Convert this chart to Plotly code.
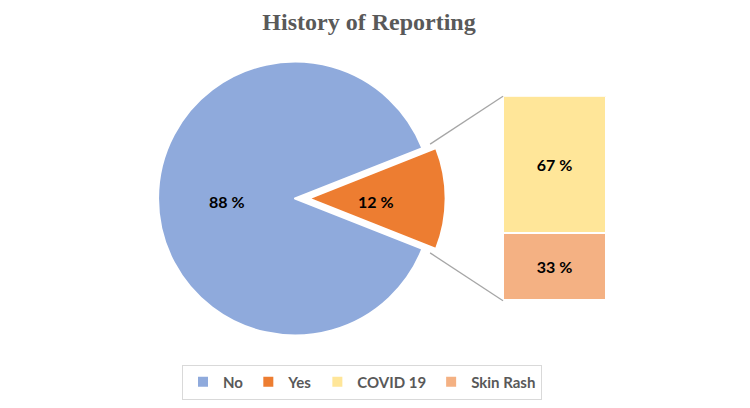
import math
import plotly.graph_objects as go

# pie: reporting history
pie_labels = ["No", "Yes"]
pie_values = [88, 12]
pie_colors = ["#8FAADC", "#ED7D31"]

# bar: breakdown of "Yes"
bar_labels = ["Skin Rash", "COVID 19"]
bar_values = [33, 67]
bar_colors = ["#F4B183", "#FFE699"]

# page body has an 8px margin, so the figure sits at (8, 8)
OFF = 8
W, H = 750 - 2 * OFF, 408 - 2 * OFF


def px(x):
    return (x - OFF) / W


def py(y):
    return 1 - (y - OFF) / H


cx, cy, r = 295, 200, 138        # pie center / radius (reference px)
pull = 0.1
half = r * (1 + pull)

total = sum(pie_values)
no_deg = pie_values[0] / total * 360
yes_deg = pie_values[1] / total * 360
# Yes slice centered on 3 o'clock
rotation = (90 - yes_deg / 2) - no_deg

fig = go.Figure()

fig.add_trace(go.Pie(
    labels=pie_labels, values=pie_values, sort=False, direction="clockwise",
    rotation=rotation, pull=[0, pull],
    marker=dict(colors=pie_colors, line=dict(color="white", width=2)),
    textinfo="none",
    domain=dict(x=[px(cx - half), px(cx + half)], y=[py(cy + half), py(cy - half)]),
    legendrank=1, hoverinfo="label+percent",
))

# slice labels at ~half radius along each slice's mid angle
annotations = []
start = rotation
for lab, val, p in zip(pie_labels, pie_values, [0, pull]):
    deg = val / total * 360
    mid = math.radians(start + deg / 2)   # clockwise from 12 o'clock
    start += deg
    d = 0.49 * r + p * r
    annotations.append(dict(
        x=px(cx + d * math.sin(mid)), y=py(cy + 3 - d * math.cos(mid)),
        xref="paper", yref="paper", xanchor="center", yanchor="middle",
        showarrow=False, text=f"{val} %",
        font=dict(family="Lato", size=16, color="black", weight="bold")))

for lab, val, col, rank in zip(bar_labels, bar_values, bar_colors, [3, 2]):
    fig.add_trace(go.Bar(
        x=[0], y=[val], name=lab, width=1,
        marker=dict(color=col, line=dict(color="white", width=2)),
        text=[f"{val} %"], textposition="inside", insidetextanchor="middle",
        textfont=dict(family="Lato", size=16, color="black", weight="bold"),
        legendrank=rank,
    ))

bx0, bx1, by0, by1 = 503, 606, 97, 303

# connector lines from exploded slice edge to the bar
off = r * pull
a = math.radians(yes_deg / 2)
ex = cx + off + r * math.cos(a) - 7
ey_top = cy - r * math.sin(a) - 4
ey_bot = cy + r * math.sin(a) + 4
shapes = [
    dict(type="line", xref="paper", yref="paper",
         x0=px(ex), y0=py(ey_top), x1=px(bx0), y1=py(by0),
         line=dict(color="#A6A6A6", width=1.3)),
    dict(type="line", xref="paper", yref="paper",
         x0=px(ex), y0=py(ey_bot), x1=px(bx0), y1=py(by1),
         line=dict(color="#A6A6A6", width=1.3)),
]

fig.update_layout(
    width=W, height=H,
    margin=dict(l=0, r=0, t=0, b=0),
    paper_bgcolor="white", plot_bgcolor="white",
    barmode="stack", bargap=0,
    title=dict(text="<b>History of Reporting</b>", x=px(369), xanchor="center",
               y=py(22), yanchor="middle",
               font=dict(family="Liberation Serif", size=24, color="#595959")),
    xaxis=dict(domain=[px(bx0), px(bx1)], range=[-0.5, 0.5], visible=False, fixedrange=True),
    yaxis=dict(domain=[py(by1), py(by0)], range=[0, 100], visible=False, fixedrange=True),
    showlegend=True,
    legend=dict(orientation="h", x=px(362), xanchor="center", y=py(385), yanchor="middle",
                traceorder="normal", bordercolor="#D9D9D9", borderwidth=1,
                font=dict(family="Lato", size=15, color="#595959", weight="bold"),
                itemwidth=30),
    annotations=annotations,
    shapes=shapes,
)

fig.write_html("out.html")
